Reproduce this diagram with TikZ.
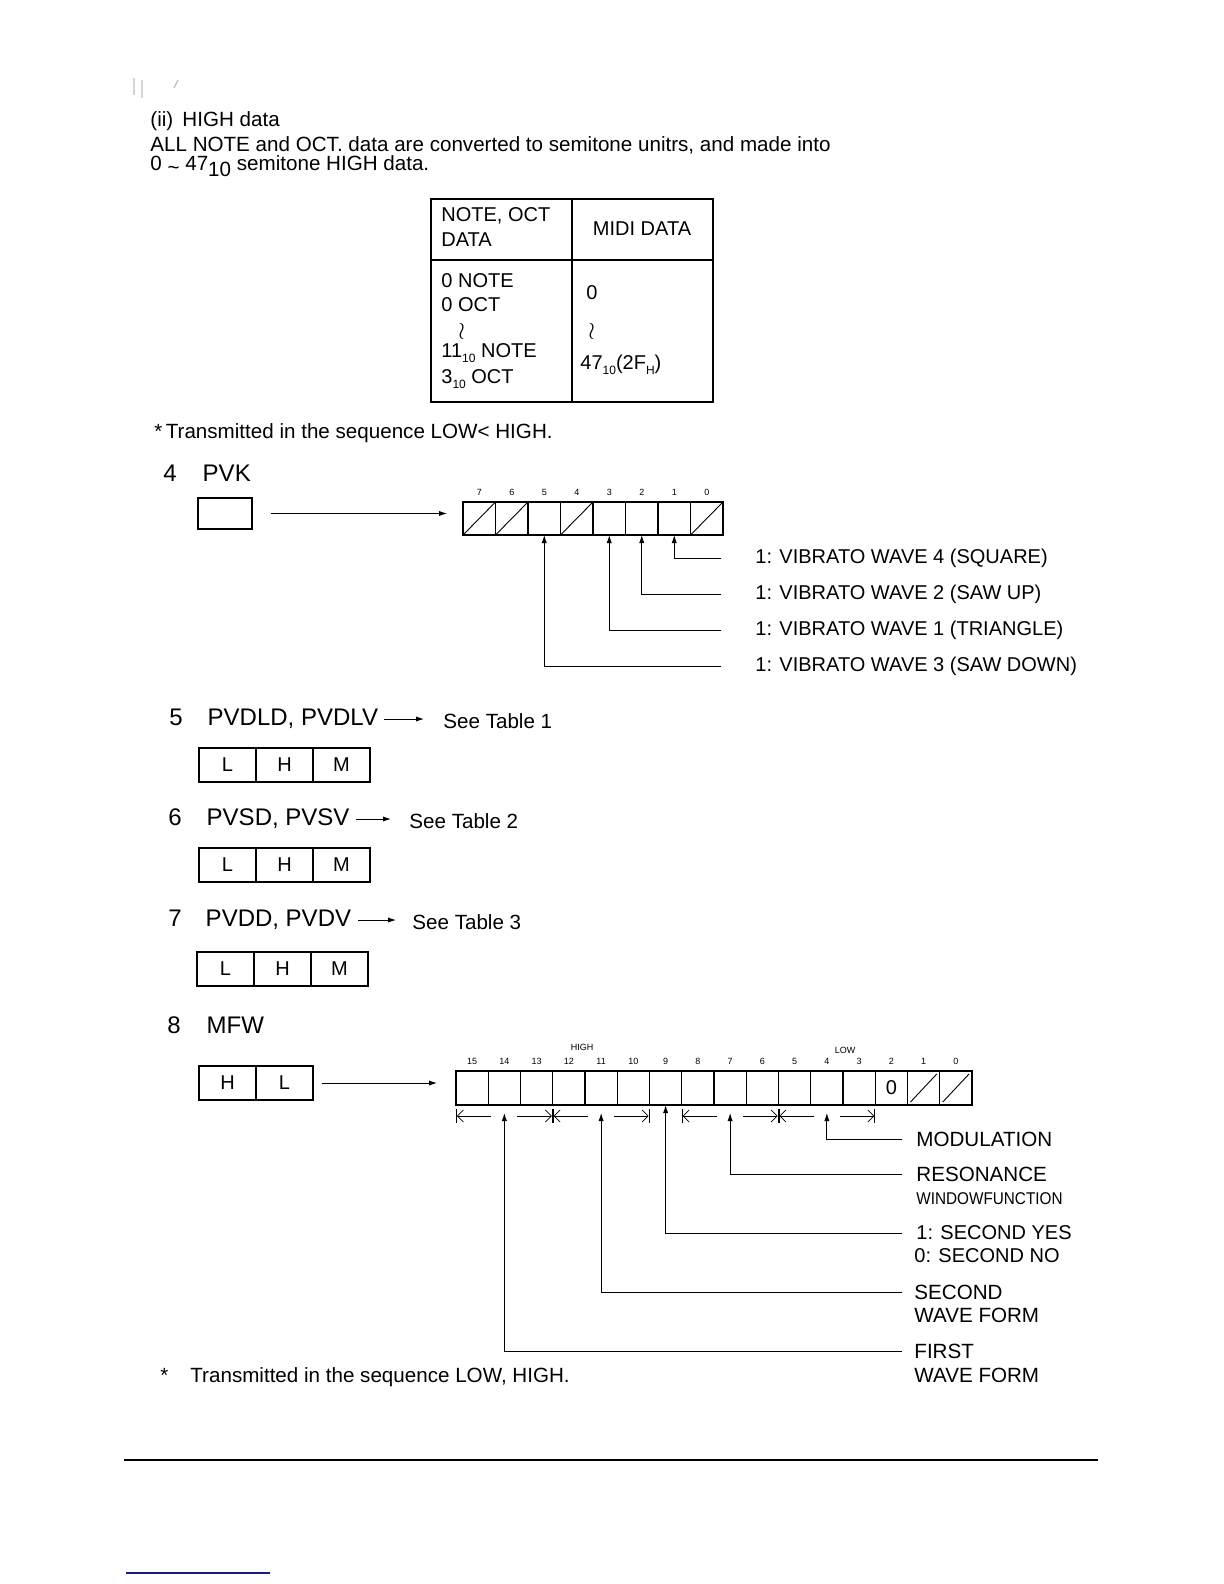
\documentclass[tikz,border=0pt]{standalone}
\usepackage{fontspec}
\setmainfont{Liberation Sans}
\usetikzlibrary{arrows.meta,positioning,calc}
\definecolor{linkblue}{RGB}{25,25,130}
\newcommand\lowsub[1]{\raisebox{-0.45ex}{\fontsize{6}{7}\selectfont #1}}
\newcommand\squig{\smash{\fontsize{13}{13}\selectfont$\wr$}}
\tikzset{
  txt/.style={anchor=west, inner sep=0pt, font=\fontsize{10.3}{12}\selectfont},
  vib/.style={txt, font=\fontsize{10}{12}\selectfont},
  head/.style={anchor=west, inner sep=0pt, font=\fontsize{12}{14}\selectfont},
  tbl/.style={anchor=west, inner sep=0pt, font=\fontsize{10}{12}\selectfont},
  bitno/.style={inner sep=0pt, font=\fontsize{4.5}{5}\selectfont},
  bit/.style={draw, line width=0.6pt, minimum width=16.25pt, minimum height=16.5pt, inner sep=0pt, outer sep=0pt},
  mbit/.style={bit, minimum width=16.125pt, minimum height=17pt, font=\fontsize{10}{12}\selectfont},
  lhm/.style={draw, line width=0.6pt, minimum width=28.5pt, minimum height=17pt, inner sep=0pt, outer sep=0pt, font=\fontsize{10}{12}\selectfont},
  onebox/.style={draw, line width=0.6pt, minimum width=27pt, minimum height=15.5pt, inner sep=0pt, outer sep=0pt},
  lead/.style={line width=0.45pt, -{Latex[length=4pt,width=2.6pt]}},
  dimln/.style={line width=0.4pt},
}

\begin{document}
\begin{tikzpicture}[x=0.5pt, y=-0.5pt]
  \path[use as bounding box, fill=white] (0,0) rectangle (1224,1584);
  % scan marks
  \draw[black!25, line width=0.6pt] (134,78) -- (134,95) (142,80) -- (142,98) (174,88) -- (178,80);

  % (ii) HIGH data
  \node[txt] (hd1) at (150,121) {(ii)\, HIGH data};
  \node[txt] (hd2) at (150,145) {ALL NOTE and OCT. data are converted to semitone unitrs, and made into};
  \node[txt] (hd3) at (150,166) {0 \raisebox{-0.4ex}{\textasciitilde} 47\raisebox{-0.5ex}{10} semitone HIGH data.};

  % table
  \draw[line width=0.7pt] (431,199) rectangle (713,402);
  \draw[line width=0.6pt] (572,199) -- (572,402) (431,260) -- (713,260);
  \node[tbl] (ta) at (441,216) {NOTE, OCT};
  \node[tbl] (tb) at (441,240) {DATA};
  \node[tbl, anchor=center] (tc) at (642,229) {MIDI DATA};
  \node[tbl] (td) at (441,281) {0 NOTE};
  \node[tbl] (te) at (441,305) {0 OCT};
  \node[tbl] (tf) at (458,337) {\squig};
  \node[tbl] (tg) at (441,353) {11\lowsub{10} NOTE};
  \node[tbl] (th) at (441,379) {3\lowsub{10} OCT};
  \node[tbl] (ti) at (586,293) {0};
  \node[tbl] (tj) at (588,337) {\squig};
  \node[tbl] (tk) at (580,365) {47\lowsub{10}(2F\lowsub{H})};
  \node[txt] (nt1) at (154,433) {*\,Transmitted in the sequence LOW< HIGH.};

  % 4 PVK
  \node[head] (s4) at (163,473) {4\hspace{13pt}PVK};
  \node[onebox, anchor=north west] (pvkbox) at (198,498) {};
  \node[bit, anchor=north west] (vk7) at (463,502) {};
  \foreach \b [remember=\b as \p (initially 7)] in {6,...,0}
    \node[bit, right=0pt of vk\p] (vk\b) {};
  \foreach \b in {7,...,0}
    \node[bitno, above=3pt of vk\b] (vkn\b) {\b};
  \foreach \b in {7,6,4,0}
    \draw[line width=0.45pt] (vk\b.south west) -- (vk\b.north east);
  \draw[lead, shorten <=9.5pt, shorten >=8pt] (pvkbox.east) -- (pvkbox.east -| vk7.west);
  \node[vib] (w4) at (755,558) {1: VIBRATO WAVE 4 (SQUARE)};
  \node[vib] (w2) at (755,594) {1: VIBRATO WAVE 2 (SAW UP)};
  \node[vib] (w1) at (755,630) {1: VIBRATO WAVE 1 (TRIANGLE)};
  \node[vib] (w3) at (755,666) {1: VIBRATO WAVE 3 (SAW DOWN)};
  \draw[lead] ($(w4.west)+(-34,0)$) -| (vk1.south);
  \draw[lead] ($(w2.west)+(-34,0)$) -| (vk2.south);
  \draw[lead] ($(w1.west)+(-34,0)$) -| (vk3.south);
  \draw[lead] ($(w3.west)+(-34,0)$) -| (vk5.south);

  % 5, 6, 7
  \node[head] (s5) at (169,719) {5\hspace{12.5pt}PVDLD, PVDLV};
  \node[txt] (t1) at (443,721) {See Table 1};
  \node[head] (s6) at (168,819) {6\hspace{12.5pt}PVSD, PVSV};
  \node[txt] (t2) at (409,821) {See Table 2};
  \node[head] (s7) at (168,920) {7\hspace{12pt}PVDD, PVDV};
  \node[txt] (t3) at (412,922) {See Table 3};
  \draw[lead, shorten <=3pt, shorten >=9.5pt] (s5.east) -- (s5.east -| t1.west);
  \draw[lead, shorten <=3pt, shorten >=9pt] (s6.east) -- (s6.east -| t2.west);
  \draw[lead, shorten <=3pt, shorten >=8pt] (s7.east) -- (s7.east -| t3.west);
  \foreach \s/\px/\py in {5/199/748, 6/199/848, 7/197/952} {
    \node[lhm, anchor=north west] (l\s) at (\px,\py) {L};
    \node[lhm, right=0pt of l\s] (h\s) {H};
    \node[lhm, right=0pt of h\s] (m\s) {M};
  }

  % 8 MFW
  \node[head] (s8) at (167,1025) {8\hspace{13pt}MFW};
  \node[lhm, anchor=north west] (mh) at (199,1066) {H};
  \node[lhm, right=0pt of mh] (ml) {L};
  \node[mbit, anchor=north west] (mf15) at (456,1071) {};
  \foreach \b [remember=\b as \p (initially 15)] in {14,...,0}
    \node[mbit, right=0pt of mf\p] (mf\b) {};
  \foreach \b in {15,...,0}
    \node[bitno, above=3pt of mf\b] (mfn\b) {\b};
  \node at (mf2) {\fontsize{10}{12}\selectfont 0};
  \foreach \b in {1,0}
    \draw[line width=0.45pt] ($(mf\b.south west)+(3,-3)$) -- ($(mf\b.north east)+(-3,3)$);
  \node[bitno] (hi) at (582,1047) {HIGH};
  \node[bitno] (lo) at (845,1050) {LOW};
  \draw[lead, shorten <=4.5pt, shorten >=9.5pt] (ml.east) -- (ml.east -| mf15.west);

  \foreach \l/\r/\n in {mf15/mf13/ga, mf12/mf10/gb, mf8/mf6/gc, mf5/mf3/gd} {
    \coordinate (\n-w) at ($(\l.south west)+(0,11)$);
    \coordinate (\n-e) at ($(\r.south east)+(0,11)$);
    \coordinate (\n-c) at ($(\n-w)!0.5!(\n-e)$);
    \coordinate (\n) at ($(\n-c)+(0,-3)$);
    \draw[dimln, {Bar[width=7pt].Straight Barb[length=3pt]}-] (\n-w) -- ($(\n-c)+(-13,0)$);
    \draw[dimln, -{Straight Barb[length=3pt].Bar[width=7pt]}] ($(\n-c)+(13,0)$) -- (\n-e);
  }
  \node[txt] (mo) at (916,1139) {MODULATION};
  \node[txt] (re) at (916,1174) {RESONANCE};
  \node[txt] (wf) at (916,1199) {\scalebox{0.9}[1]{\fontsize{8.5}{10}\selectfont WINDOWFUNCTION}};
  \node[vib] (sy) at (916,1233) {1: SECOND YES};
  \node[vib] (sn) at (914,1256) {0: SECOND NO};
  \node[txt] (sw) at (914,1292) {SECOND};
  \node[txt] (sw2) at (914,1315) {WAVE FORM};
  \node[txt] (fw) at (914,1351) {FIRST};
  \node[txt] (fw2) at (914,1375) {WAVE FORM};
  \draw[lead] ($(mo.west)+(-14,0)$) -| (gd);
  \draw[lead] ($(re.west)+(-14,0)$) -| (gc);
  \draw[lead] ($(sy.west)+(-14,0)$) -| (mf9.south);
  \draw[lead] ($(sw.west)+(-12,0)$) -| (gb);
  \draw[lead] ($(fw.west)+(-12,0)$) -| (ga);
  \node[txt] (nt2) at (160,1377) {*\hspace{11pt}Transmitted in the sequence LOW, HIGH.};

  % page foot
  \draw[line width=1pt] (124,1460) -- (1098,1460);
  \draw[linkblue, line width=0.8pt] (126,1573) -- (270,1573);
\end{tikzpicture}
\end{document}
